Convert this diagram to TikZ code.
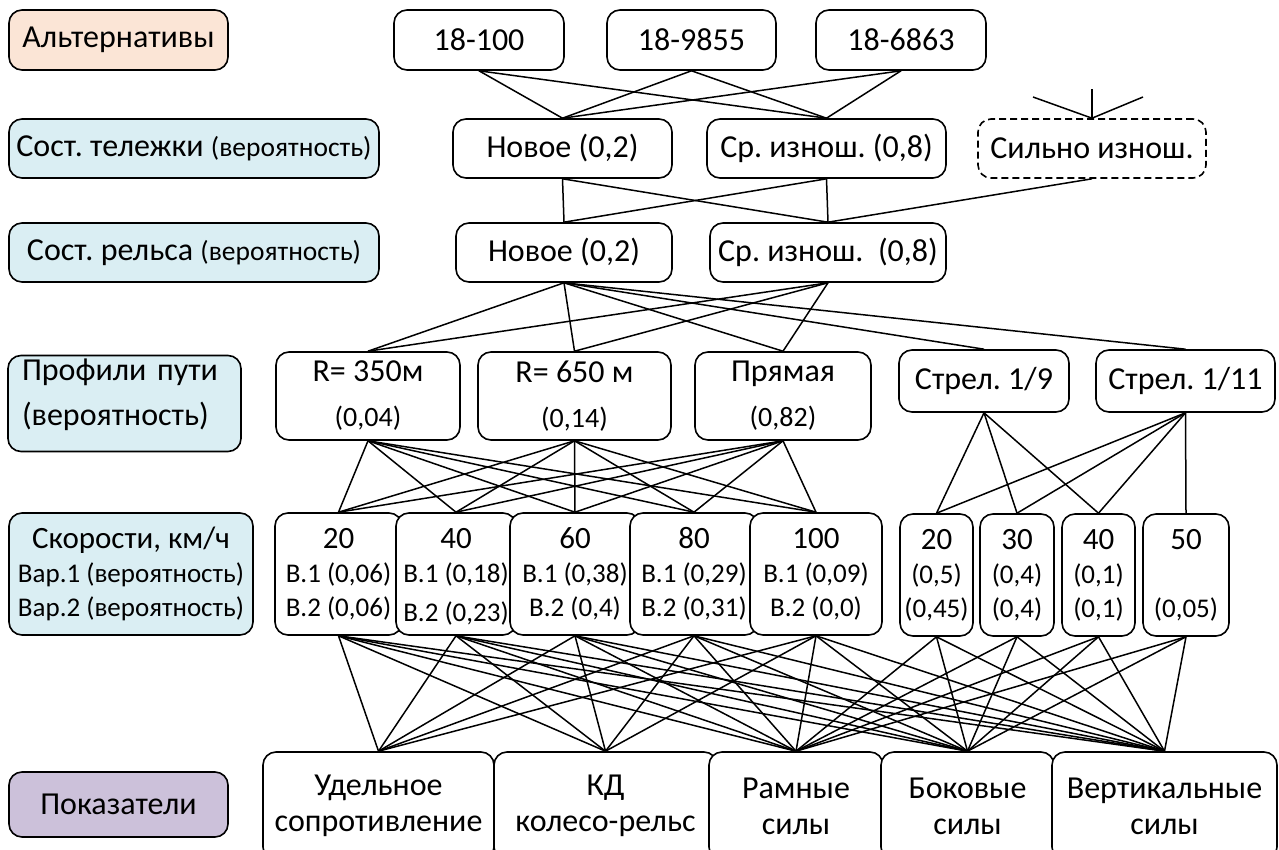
\documentclass[tikz,border=0pt]{standalone}
\usepackage{fontspec}
\setmainfont{Carlito}
\usepackage{tikz}
\usetikzlibrary{shapes}

\definecolor{altcolor}{RGB}{251,229,214}
\definecolor{statecolor}{RGB}{218,238,243}
\definecolor{critcolor}{RGB}{204,193,218}

\begin{document}
\frenchspacing
\begin{tikzpicture}[x=1pt, y=-1pt,
  box/.style={draw, line width=1.6pt, rounded corners=13pt, fill=white,
    inner sep=0pt, align=center, font=\fontsize{32}{38}\selectfont},
  side/.style={box, fill=statecolor},
  speed/.style={box, minimum height=122pt, font=\fontsize{27}{34}\selectfont},
  profile/.style={box, minimum height=88pt, font=\fontsize{32}{45}\selectfont},
  crit/.style={box, minimum height=108pt, font=\fontsize{32}{36}\selectfont},
  wire/.style={line width=1.5pt}]
\useasboundingbox (0,0) rectangle (1279,850);

%%% left column %%%
      \node[side, fill=altcolor, minimum width=219pt, minimum height=60pt] (altlab) at (118.5,40) {Альтернативы};
      \node[side, minimum width=370pt, minimum height=59pt] (boglab) at (194,148.5)
        {Сост. тележки {\fontsize{27.5}{30}\selectfont(вероятность)}};
      \node[side, minimum width=370pt, minimum height=59pt] (raillab) at (194,252.5)
        {Сост. рельса {\fontsize{27.5}{30}\selectfont(вероятность)}};
      \node[side, align=left, text width=205pt, minimum width=233pt, minimum height=96pt, font=\fontsize{32}{45}\selectfont] (proflab) at (124.5,403.5)
        {Профили пути\\(вероятность)\rule[-22pt]{0pt}{22pt}};
      \node[side, minimum width=244pt, minimum height=122pt, font=\fontsize{27}{34}\selectfont] (speedlab) at (131,574)
        {{\fontsize{31}{34}\selectfont Скорости, км/ч}\\Вар.1 (вероятность)\\Вар.2 (вероятность)};
      \node[side, fill=critcolor, minimum width=219pt, minimum height=65pt] (critlab) at (118.5,804.5) {Показатели};

%%% alternatives %%%
      \node[box, minimum width=170pt, minimum height=60pt] (a100) at (479,40) {18-100};
      \node[box, minimum width=169pt, minimum height=60pt] (a9855) at (691.5,40) {18-9855};
      \node[box, minimum width=170pt, minimum height=60pt] (a6863) at (901,40) {18-6863};

%%% bogie and rail %%%
      \node[box, minimum width=219pt, minimum height=59pt] (bnew) at (562.5,148.5) {Новое (0,2)};
      \node[box, minimum width=239pt, minimum height=59pt] (bmid) at (826.5,148.5) {Ср. изнош. (0,8)};
      \node[box, dash pattern=on 7pt off 4pt, minimum width=228pt, minimum height=59pt] (bworn) at (1092,148.5) {Сильно изнош.};
      \node[box, minimum width=216pt, minimum height=59pt] (rnew) at (564,252.5) {Новое (0,2)};
      \node[box, minimum width=236pt, minimum height=59pt] (rmid) at (828,252.5) {Ср. изнош. \ (0,8)};
      \coordinate (wtop) at (1092,89);
      \coordinate (wleft) at (1033,97);
      \coordinate (wright) at (1143,97);

%%% track profiles %%%
      \node[profile, minimum width=184pt] (p350) at (368,396)
        {R= 350м\\{\fontsize{28}{45}\selectfont(0,04)}};
      \node[profile, minimum width=193pt] (p650) at (574.5,396)
        {R= 650 м\\{\fontsize{28}{45}\selectfont(0,14)}};
      \node[profile, minimum width=176pt] (pstr) at (783,396)
        {Прямая\\{\fontsize{28}{45}\selectfont(0,82)}};
      \node[box, minimum width=170pt, minimum height=62pt] (sw9) at (984,381) {Стрел. 1/9};
      \node[box, minimum width=179pt, minimum height=62pt] (sw11) at (1185.5,381) {Стрел. 1/11};

%%% speeds %%%
      \node[speed, minimum width=127pt] (v20) at (338.5,574)
        {{\fontsize{31}{34}\selectfont 20}\\В.1 (0,06)\\В.2 (0,06)};
      \node[speed, minimum width=120pt] (v40) at (456,574)
        {{\fontsize{31}{34}\selectfont 40}\\В.1 (0,18)\\\raisebox{-5pt}[\height][\depth]{В.2 (0,23)}};
      \node[speed, minimum width=130pt] (v60) at (575,574)
        {{\fontsize{31}{34}\selectfont 60}\\В.1 (0,38)\\В.2 (0,4)};
      \node[speed, minimum width=128pt] (v80) at (694,574)
        {{\fontsize{31}{34}\selectfont 80}\\В.1 (0,29)\\В.2 (0,31)};
      \node[speed, minimum width=132pt] (v100) at (816,574)
        {{\fontsize{31}{34}\selectfont 100}\\В.1 (0,09)\\В.2 (0,0)};
      \node[speed, minimum width=73pt] (w20) at (936.5,575)
        {{\fontsize{31}{34}\selectfont 20}\\(0,5)\\(0,45)};
      \node[speed, minimum width=74pt] (w30) at (1017,575)
        {{\fontsize{31}{34}\selectfont 30}\\(0,4)\\(0,4)};
      \node[speed, minimum width=73pt] (w40) at (1098.5,575)
        {{\fontsize{31}{34}\selectfont 40}\\(0,1)\\(0,1)};
      \node[speed, minimum width=86pt] (w50) at (1186,575)
        {{\fontsize{31}{34}\selectfont 50}\\ \strut\\(0,05)};

%%% criteria %%%
      \node[crit, minimum width=231pt] (c1) at (378.5,806) {Удельное\\сопротивление};
      \node[crit, minimum width=223pt] (c2) at (605.5,806) {КД\\колесо-рельс};
      \node[crit, minimum width=174pt] (c3) at (796,806) {Рамные\\силы};
      \node[crit, minimum width=173pt] (c4) at (967.5,806) {Боковые\\силы};
      \node[crit, minimum width=225pt] (c5) at (1164.5,806) {Вертикальные\\силы};

%%% connectors %%%
      %% alternatives - bogie
      \foreach \a in {a100,a9855,a6863}
        \foreach \b in {bnew,bmid}
          \draw[wire] (\a.south) -- (\b.north);
      \draw[wire] (bworn.north) -- (wtop);
      \draw[wire] (bworn.north) -- (wleft);
      \draw[wire] (bworn.north) -- (wright);
      %% bogie - rail
      \foreach \a in {bnew,bmid}
        \foreach \b in {rnew,rmid}
          \draw[wire] (\a.south) -- (\b.north);
      \draw[wire] (bworn.south) -- (rmid.north);
      %% rail - profiles
      \foreach \b in {p350,p650,pstr,sw9,sw11}
        \draw[wire] (rnew.south) -- (\b.north);
      \foreach \b in {p350,p650,pstr}
        \draw[wire] (rmid.south) -- (\b.north);
      %% profiles - speeds
      \foreach \a in {p350,p650,pstr}
        \foreach \b in {v20,v40,v60,v80,v100}
          \draw[wire] (\a.south) -- (\b.north);
      \foreach \b in {w20,w30,w40}
        \draw[wire] (sw9.south) -- (\b.north);
      \foreach \b in {w20,w30,w40,w50}
        \draw[wire] (sw11.south) -- (\b.north);
      %% speeds - criteria
      \foreach \a in {v20,v40,v60,v80,v100}
        \foreach \b in {c1,c2,c3,c4,c5}
          \draw[wire] (\a.south) -- (\b.north);
      \foreach \a in {w20,w30,w40,w50}
        \foreach \b in {c3,c4,c5}
          \draw[wire] (\a.south) -- (\b.north);

\end{tikzpicture}
\end{document}
